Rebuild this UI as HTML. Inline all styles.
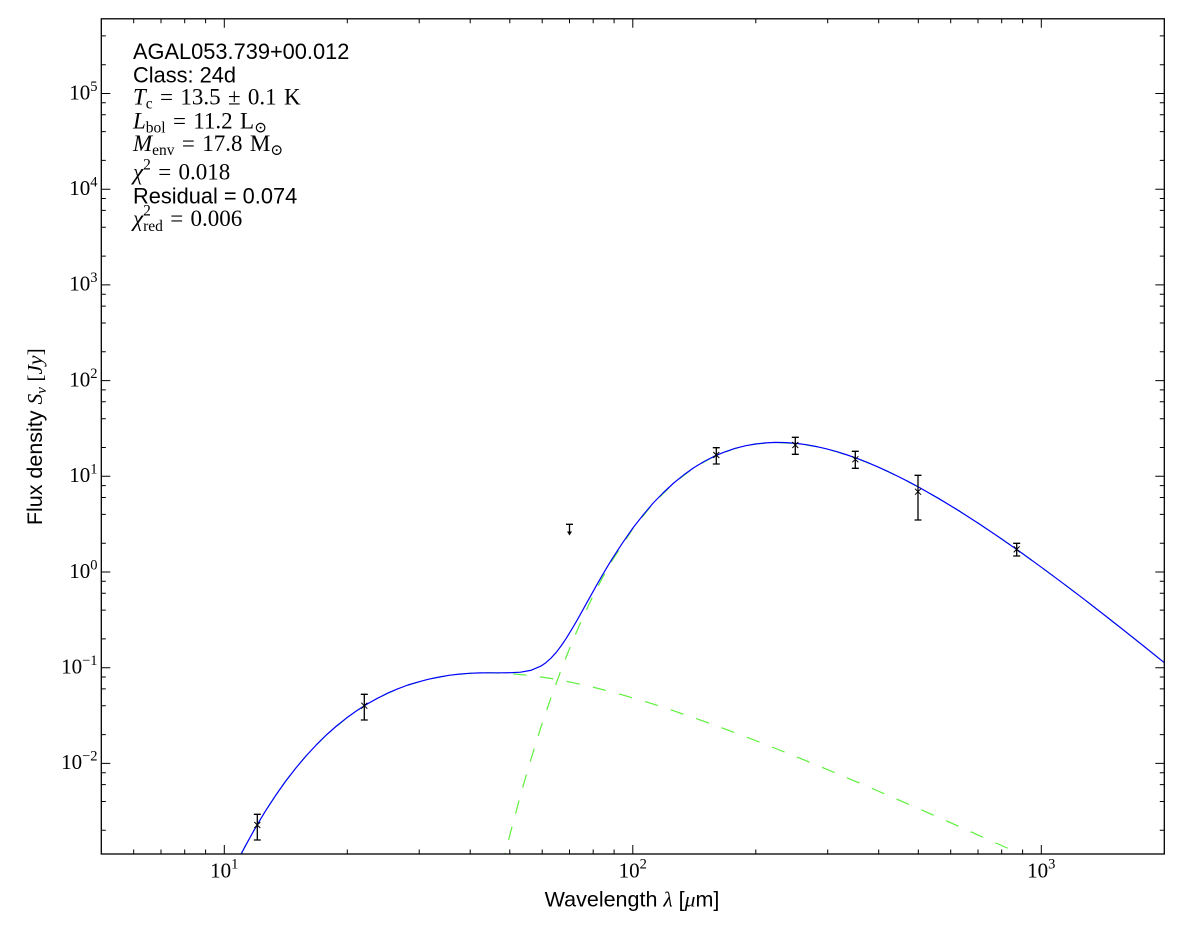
<!DOCTYPE html>
<html><head><meta charset="utf-8"><style>
html,body{margin:0;padding:0;background:#fff;}
svg{display:block;}
.ser{font-family:"Liberation Serif","DejaVu Serif",serif;}
.san{font-family:"Liberation Sans","DejaVu Sans",sans-serif;}
</style></head><body>
<svg width="1200" height="933" viewBox="0 0 1200 933" xmlns="http://www.w3.org/2000/svg">
<rect width="1200" height="933" fill="#fff"/>
<defs><clipPath id="c"><rect x="101.3" y="18.8" width="1063" height="835.2"/></clipPath></defs>
<g clip-path="url(#c)" fill="none" stroke-linejoin="round">
<polyline stroke="#5ef03c" stroke-width="1.2" stroke-dasharray="13.5 13.5" points="240.6,855.0 244.7,847.2 254.9,828.7 265.1,811.6 275.3,795.9 285.5,781.4 295.7,768.2 305.9,756.1 316.1,745.1 326.3,735.0 346.8,717.8 367.2,704.0 387.6,693.2 408.0,685.0 428.6,679.2 449.0,675.3 469.4,673.3 489.8,672.8 510.3,673.6 530.7,675.6 551.2,678.5 571.6,682.4 592.0,686.9 612.4,692.1 632.8,697.9 653.2,704.1 673.7,710.8 694.1,717.8 714.5,725.1 734.9,732.7 755.4,740.5 775.8,748.5 796.2,756.7 816.6,765.1 837.0,773.6 857.5,782.2 877.9,791.0 898.3,799.8 918.7,808.7 939.2,817.7 959.6,826.7 980.0,835.9 1000.4,845.0 1020.9,854.2 1031,859"/>
<polyline stroke="#5ef03c" stroke-width="1.2" stroke-dasharray="13.5 13.5" points="502.1,865.9 506.2,849.4 510.3,833.3 520.5,795.2 530.7,759.9 540.9,727.2 551.2,697.0 561.4,669.1 571.6,643.4 581.8,619.7 592.0,598.0 602.2,578.2 612.4,560.1 632.8,528.8 653.2,503.4 673.7,483.2 694.1,467.6 714.5,456.2 734.9,448.5 755.4,444.0 775.8,442.5 796.2,443.4 816.6,446.6 837.0,451.8 857.5,458.6 877.9,466.9 898.3,476.5 918.7,487.2 939.2,498.8 959.6,511.2 980.0,524.4 1000.4,538.1 1020.9,552.4 1041.3,567.2 1061.7,582.3 1082.2,597.8 1102.6,613.6 1123.0,629.6 1143.4,645.9 1164.3,662.7"/>
<polyline stroke="#0000ff" stroke-width="1.2" points="240.6,855.0 244.7,847.2 254.9,828.7 265.1,811.6 275.3,795.9 285.5,781.4 295.7,768.2 305.9,756.1 316.1,745.1 326.3,735.0 336.5,726.0 346.8,717.8 357.0,710.5 367.2,704.0 377.4,698.3 387.6,693.2 397.8,688.8 408.0,685.0 418.3,681.9 428.6,679.2 438.8,677.1 449.0,675.3 459.2,674.1 469.4,673.3 479.6,672.9 489.8,672.8 500.0,672.8 510.3,672.7 520.5,672.2 530.7,670.4 540.9,666.1 546.0,662.6 551.2,657.9 556.3,652.3 561.4,645.5 566.5,637.9 571.6,629.6 576.7,620.9 581.8,611.8 586.9,602.6 592.0,593.4 597.1,584.3 602.2,575.4 607.3,566.8 612.4,558.4 622.6,542.8 632.8,528.1 643.0,515.1 653.2,503.0 663.5,492.5 673.7,483.0 683.9,474.8 694.1,467.5 704.3,461.4 714.5,456.1 724.7,451.9 734.9,448.4 745.2,445.8 755.4,444.0 765.6,442.9 775.8,442.4 786.0,442.6 796.2,443.4 806.4,444.7 816.6,446.6 826.8,448.9 837.0,451.7 847.3,455.0 857.5,458.6 867.7,462.6 877.9,466.9 888.1,471.6 898.3,476.5 908.5,481.7 918.7,487.1 939.2,498.8 959.6,511.2 980.0,524.4 1000.4,538.1 1020.9,552.4 1041.3,567.2 1061.7,582.3 1082.2,597.8 1102.6,613.6 1123.0,629.6 1143.4,645.9 1164.3,662.7"/>
</g>
<!-- error bars -->
<g stroke="#000" stroke-width="1.3" fill="none">
<path d="M257.3 814.3V840M253.8 814.3h7M253.8 840h7"/>
<path d="M364.3 694.3V720M360.8 694.3h7M360.8 720h7"/>
<path d="M716.3 447.7V464M712.8 447.7h7M712.8 464h7"/>
<path d="M795.3 437.3V454.3M791.8 437.3h7M791.8 454.3h7"/>
<path d="M855.3 451.3V468.3M851.8 451.3h7M851.8 468.3h7"/>
<path d="M918 475.3V520M914.5 475.3h7M914.5 520h7"/>
<path d="M1016.7 543.3V556M1013.2 543.3h7M1013.2 556h7"/>
<path d="M569.5 524.3V532M566 524.3h7"/>
</g>
<path d="M567 531.5h5l-2.5 4z" fill="#000"/>
<!-- x markers -->
<g stroke="#000" stroke-width="1" fill="none">
<path d="M254.3 822l6 6M254.3 828l6-6"/>
<path d="M361.3 702.7l6 6M361.3 708.7l6-6"/>
<path d="M713.3 452l6 6M713.3 458l6-6"/>
<path d="M792.3 442l6 6M792.3 448l6-6"/>
<path d="M852.3 456.3l6 6M852.3 462.3l6-6"/>
<path d="M915 488.7l6 6M915 494.7l6-6"/>
<path d="M1013.7 546.3l6 6M1013.7 552.3l6-6"/>
</g>
<!-- ticks -->
<g stroke="#000" stroke-width="1" fill="none">
<path d="M101.3 93.5h9M101.3 189.2h9M101.3 284.9h9M101.3 380.6h9M101.3 476.3h9M101.3 572h9M101.3 667.7h9M101.3 763.4h9
M1164.3 93.5h-9M1164.3 189.2h-9M1164.3 284.9h-9M1164.3 380.6h-9M1164.3 476.3h-9M1164.3 572h-9M1164.3 667.7h-9M1164.3 763.4h-9"/>
<path d="M101.3 64.7h4.5M101.3 35.9h4.5M101.3 160.4h4.5M101.3 131.6h4.5M101.3 114.7h4.5M101.3 102.8h4.5M101.3 256.1h4.5M101.3 227.3h4.5M101.3 210.4h4.5M101.3 198.5h4.5M101.3 351.8h4.5M101.3 323h4.5M101.3 306.1h4.5M101.3 294.2h4.5M101.3 447.5h4.5M101.3 418.7h4.5M101.3 401.8h4.5M101.3 389.9h4.5M101.3 543.2h4.5M101.3 514.4h4.5M101.3 497.5h4.5M101.3 485.6h4.5M101.3 638.9h4.5M101.3 610.1h4.5M101.3 593.2h4.5M101.3 581.3h4.5M101.3 734.6h4.5M101.3 705.8h4.5M101.3 688.9h4.5M101.3 677h4.5M101.3 830.3h4.5M101.3 801.5h4.5M101.3 784.6h4.5M101.3 772.7h4.5
M1164.3 64.7h-4.5M1164.3 35.9h-4.5M1164.3 160.4h-4.5M1164.3 131.6h-4.5M1164.3 114.7h-4.5M1164.3 102.8h-4.5M1164.3 256.1h-4.5M1164.3 227.3h-4.5M1164.3 210.4h-4.5M1164.3 198.5h-4.5M1164.3 351.8h-4.5M1164.3 323h-4.5M1164.3 306.1h-4.5M1164.3 294.2h-4.5M1164.3 447.5h-4.5M1164.3 418.7h-4.5M1164.3 401.8h-4.5M1164.3 389.9h-4.5M1164.3 543.2h-4.5M1164.3 514.4h-4.5M1164.3 497.5h-4.5M1164.3 485.6h-4.5M1164.3 638.9h-4.5M1164.3 610.1h-4.5M1164.3 593.2h-4.5M1164.3 581.3h-4.5M1164.3 734.6h-4.5M1164.3 705.8h-4.5M1164.3 688.9h-4.5M1164.3 677h-4.5M1164.3 830.3h-4.5M1164.3 801.5h-4.5M1164.3 784.6h-4.5M1164.3 772.7h-4.5"/>
<path d="M224.3 854v-9M632.8 854v-9M1041.3 854v-9M224.3 18.8v9M632.8 18.8v9M1041.3 18.8v9"/>
<path d="M133.7 854v-4.5M161 854v-4.5M184.7 854v-4.5M205.6 854v-4.5M347.3 854v-4.5M419.2 854v-4.5M470.2 854v-4.5M509.8 854v-4.5M542.2 854v-4.5M569.5 854v-4.5M593.2 854v-4.5M614.1 854v-4.5M755.8 854v-4.5M827.7 854v-4.5M878.7 854v-4.5M918.3 854v-4.5M950.7 854v-4.5M978 854v-4.5M1001.7 854v-4.5M1022.6 854v-4.5
M133.7 18.8v4.5M161 18.8v4.5M184.7 18.8v4.5M205.6 18.8v4.5M347.3 18.8v4.5M419.2 18.8v4.5M470.2 18.8v4.5M509.8 18.8v4.5M542.2 18.8v4.5M569.5 18.8v4.5M593.2 18.8v4.5M614.1 18.8v4.5M755.8 18.8v4.5M827.7 18.8v4.5M878.7 18.8v4.5M918.3 18.8v4.5M950.7 18.8v4.5M978 18.8v4.5M1001.7 18.8v4.5M1022.6 18.8v4.5"/>
</g>
<rect x="101.3" y="18.8" width="1063" height="835.2" fill="none" stroke="#000" stroke-width="1.3"/>
<!-- y tick labels -->
<g class="ser" font-size="21" fill="#000" text-anchor="end">
<text x="97.5" y="99.3">10<tspan font-size="14.5" dy="-8.5">5</tspan></text>
<text x="97.5" y="195">10<tspan font-size="14.5" dy="-8.5">4</tspan></text>
<text x="97.5" y="290.7">10<tspan font-size="14.5" dy="-8.5">3</tspan></text>
<text x="97.5" y="386.4">10<tspan font-size="14.5" dy="-8.5">2</tspan></text>
<text x="97.5" y="482.1">10<tspan font-size="14.5" dy="-8.5">1</tspan></text>
<text x="97.5" y="577.8">10<tspan font-size="14.5" dy="-8.5">0</tspan></text>
<text x="97.5" y="673.5">10<tspan font-size="14.5" dy="-8.5">−1</tspan></text>
<text x="97.5" y="769.2">10<tspan font-size="14.5" dy="-8.5">−2</tspan></text>
</g>
<!-- x tick labels -->
<g class="ser" font-size="21" fill="#000" text-anchor="middle">
<text x="224.3" y="877.7">10<tspan font-size="14.5" dy="-9">1</tspan></text>
<text x="632.8" y="877.7">10<tspan font-size="14.5" dy="-9">2</tspan></text>
<text x="1041.3" y="877.7">10<tspan font-size="14.5" dy="-9">3</tspan></text>
</g>
<!-- axis labels -->
<text class="san" x="632" y="906.7" font-size="21.5" text-anchor="middle" fill="#000">Wavelength <tspan class="ser" font-style="italic">λ</tspan> [<tspan class="ser" font-style="italic">μ</tspan>m]</text>
<text class="san" transform="translate(42,436.7) rotate(-90)" font-size="21.5" text-anchor="middle" fill="#000">Flux density <tspan class="ser" font-style="italic">S</tspan><tspan class="ser" font-style="italic" font-size="15" dy="4">ν</tspan><tspan class="ser" dy="-4"> [</tspan><tspan class="ser" font-style="italic">Jy</tspan><tspan class="ser">]</tspan></text>
<!-- annotations -->
<g fill="#000">
<text class="san" font-size="21.8" x="133" y="59">AGAL053.739+00.012</text>
<text class="san" font-size="21.8" x="133" y="82.7">Class: 24d</text>
<text class="ser" font-size="23" word-spacing="1.6" x="133" y="104.3"><tspan font-style="italic">T</tspan><tspan font-size="15.5" dy="4">c</tspan><tspan dy="-4"> = 13.5 ± 0.1 K</tspan></text>
<text class="ser" font-size="23" word-spacing="1.6" x="133" y="128.3"><tspan font-style="italic">L</tspan><tspan font-size="15.5" dy="4">bol</tspan><tspan dy="-4"> = 11.2 L</tspan><tspan font-size="15.5" dy="4">⊙</tspan></text>
<text class="ser" font-size="23" word-spacing="1.6" x="133" y="151"><tspan font-style="italic">M</tspan><tspan font-size="15.5" dy="4">env</tspan><tspan dy="-4"> = 17.8 M</tspan><tspan font-size="15.5" dy="4">⊙</tspan></text>
<text class="ser" font-size="23" word-spacing="1.6" x="133" y="179.3"><tspan font-style="italic">χ</tspan><tspan font-size="15.5" dy="-10">2</tspan><tspan dy="10"> = 0.018</tspan></text>
<text class="san" font-size="21.8" x="133" y="203.5">Residual = 0.074</text>
<text class="ser" font-size="23" word-spacing="1.6" x="133" y="226"><tspan font-style="italic">χ</tspan><tspan font-size="15.5" dy="-10.5">2</tspan><tspan font-size="15.5" dx="-7.8" dy="15.5">red</tspan><tspan dy="-5"> = 0.006</tspan></text>
</g>
</svg>
</body></html>
